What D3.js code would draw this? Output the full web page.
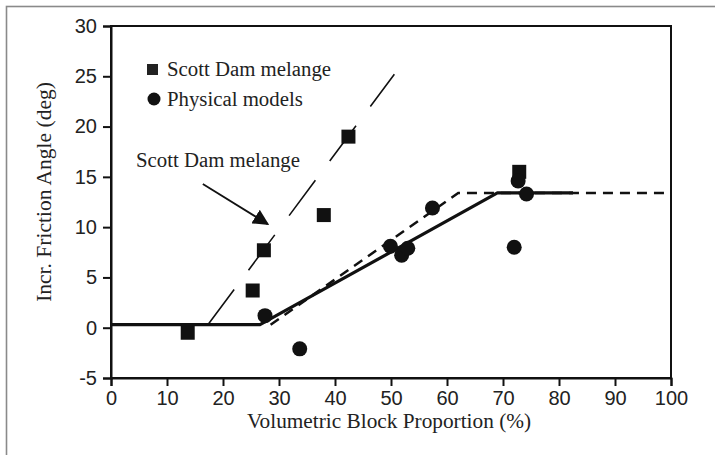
<!DOCTYPE html>
<html><head><meta charset="utf-8">
<script src="https://cdn.jsdelivr.net/npm/d3@7"></script>
<style>
html,body{margin:0;padding:0;background:#fff;}
svg{display:block;}
</style></head>
<body>
<svg id="c" width="715" height="455"></svg>
<script>
// ---- data ----
const xTicks = [0,10,20,30,40,50,60,70,80,90,100];
const yTicks = [-5,0,5,10,15,20,25,30];
const scottX = [13.7,25.3,27.3,38.0,42.4,72.9];
const scottY = [-0.5,3.7,7.7,11.2,19.0,15.5];
const physX = [27.5,33.7,49.9,51.9,53.0,57.4,72.0,72.7,74.2];
const physY = [1.2,-2.1,8.1,7.2,7.9,11.9,8.0,14.6,13.3];
const solidFitX = [0,26.6,69.0,82.5];
const solidFitY = [0.3,0.3,13.4,13.4];
const dashFitX = [28.5,62.0,100];
const dashFitY = [0.3,13.4,13.4];
const scottFitX = [17.3,50.6];
const scottFitY = [0.3,25.2];
const legendLabels = ["Scott Dam melange","Physical models"];
const annotText = "Scott Dam melange";
const annotTextPos = [19.1,16.0];
const arrowFrom = [16.4,14.3];
const arrowTo = [28.0,10.3];
const xLabel = "Volumetric Block Proportion (%)";
const yLabel = "Incr. Friction Angle (deg)";

// ---- layout ----
const svg = d3.select("#c");
const m = {left:111, top:26, right:671, bottom:378};
const x = d3.scaleLinear().domain([0,100]).range([m.left,m.right]);
const y = d3.scaleLinear().domain([-5,30]).range([m.bottom,m.top]);

// outer frame
svg.append("rect").attr("x",6.5).attr("y",6.5).attr("width",760).attr("height",500)
  .attr("fill","none").attr("stroke","#8a8a8a").attr("stroke-width",1.6);

// plot box
svg.append("rect").attr("x",m.left).attr("y",m.top).attr("width",m.right-m.left).attr("height",m.bottom-m.top)
  .attr("fill","none").attr("stroke","#111").attr("stroke-width",2);

const sans = "'Liberation Sans', Arial, sans-serif";
const serif = "'Liberation Serif', 'Times New Roman', serif";
const fmt = d => String(d);

const xAxis = svg.append("g").attr("transform",`translate(0,${m.bottom})`)
  .call(d3.axisBottom(x).tickValues(xTicks).tickSize(8).tickPadding(5).tickFormat(fmt));
const yAxis = svg.append("g").attr("transform",`translate(${m.left},0)`)
  .call(d3.axisLeft(y).tickValues(yTicks).tickSize(8).tickPadding(6).tickFormat(fmt));
[xAxis,yAxis].forEach(g=>{
  g.select(".domain").attr("stroke","#111").attr("stroke-width",2);
  g.selectAll(".tick line").attr("stroke","#111").attr("stroke-width",2);
  g.selectAll(".tick text").attr("fill","#222").style("font-family",sans).style("font-size","20px");
});

// axis labels
svg.append("text").attr("x",(m.left+m.right)/2 - 2).attr("y",428).attr("text-anchor","middle")
  .style("font-family",serif).style("font-size","21.3px").attr("fill","#222").text(xLabel);
svg.append("text").attr("transform",`translate(51,192) rotate(-90)`).attr("text-anchor","middle")
  .style("font-family",serif).style("font-size","21.5px").attr("fill","#222").text(yLabel);

const line = d3.line().x(d=>x(d[0])).y(d=>y(d[1]));
const zip = (a,b)=>a.map((v,i)=>[v,b[i]]);

// fit lines
svg.append("path").attr("d",line(zip(scottFitX,scottFitY))).attr("fill","none")
  .attr("stroke","#111").attr("stroke-width",1.6).attr("stroke-dasharray","44 24");
svg.append("path").attr("d",line(zip(dashFitX,dashFitY))).attr("fill","none")
  .attr("stroke","#111").attr("stroke-width",2.5).attr("stroke-dasharray","10 7");
svg.append("path").attr("d",line(zip(solidFitX,solidFitY))).attr("fill","none")
  .attr("stroke","#111").attr("stroke-width",3.2).attr("stroke-linejoin","round");

// markers
const sq = 14;
svg.append("g").selectAll("rect").data(zip(scottX,scottY)).join("rect")
  .attr("x",d=>x(d[0])-sq/2).attr("y",d=>y(d[1])-sq/2).attr("width",sq).attr("height",sq)
  .attr("fill","#111");
svg.append("g").selectAll("circle").data(zip(physX,physY)).join("circle")
  .attr("cx",d=>x(d[0])).attr("cy",d=>y(d[1])).attr("r",7.5).attr("fill","#111");

// legend
svg.append("rect").attr("x",147).attr("y",64).attr("width",11).attr("height",11).attr("fill","#222");
svg.append("circle").attr("cx",154).attr("cy",99).attr("r",6.5).attr("fill","#111");
svg.append("text").attr("x",167).attr("y",76).style("font-family",serif).style("font-size","20.8px").attr("fill","#222").text(legendLabels[0]);
svg.append("text").attr("x",167).attr("y",106).style("font-family",serif).style("font-size","20.8px").attr("fill","#222").text(legendLabels[1]);

// annotation
svg.append("defs").append("marker").attr("id","ah").attr("viewBox","0 0 10 10").attr("refX",9).attr("refY",5)
  .attr("markerWidth",16).attr("markerHeight",16).attr("markerUnits","userSpaceOnUse").attr("orient","auto")
  .append("path").attr("d","M0,0 L10,5 L0,10 z").attr("fill","#111");
svg.append("line").attr("x1",x(arrowFrom[0])).attr("y1",y(arrowFrom[1])).attr("x2",x(arrowTo[0])).attr("y2",y(arrowTo[1]))
  .attr("stroke","#111").attr("stroke-width",1.8).attr("marker-end","url(#ah)");
svg.append("text").attr("x",x(annotTextPos[0])).attr("y",y(annotTextPos[1])).attr("text-anchor","middle")
  .style("font-family",serif).style("font-size","20.8px").attr("fill","#222").text(annotText);
</script>
</body></html>
